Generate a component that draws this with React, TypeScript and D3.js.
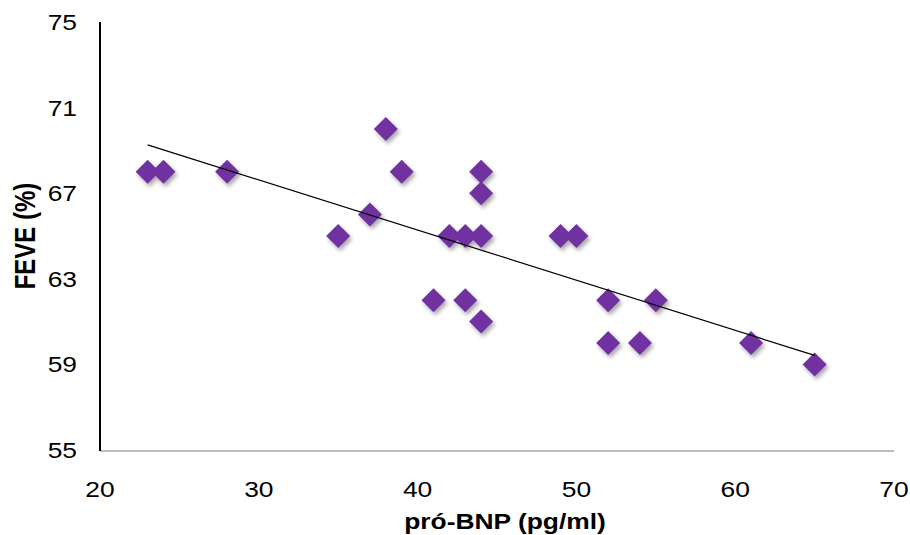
import React from "react";
import * as d3 from "d3";

// pró-BNP (pg/ml) vs FEVE (%)
const bnp = [23, 24, 28, 35, 37, 38, 39, 41, 42, 43, 43, 44, 44, 44, 44, 49, 50, 52, 52, 54, 55, 61, 65];
const feve = [68, 68, 68, 65, 66, 70, 68, 62, 65, 65, 62, 68, 67, 65, 61, 65, 65, 62, 60, 60, 62, 60, 59];
const xTicks = [20, 30, 40, 50, 60, 70];
const yTicks = [55, 59, 63, 67, 71, 75];

const App = () => {
    const width = 910;
    const height = 535;
    const left = 100, right = 894, top = 22, bottom = 450;
    const sx = 1.2; // the original picture is stretched sideways

    const x = d3.scaleLinear().domain([20, 70]).range([left, right]);
    const y = d3.scaleLinear().domain([55, 75]).range([bottom, top]);

    // least squares trend line
    const mx = d3.mean(bnp) as number;
    const my = d3.mean(feve) as number;
    const sxy = d3.sum(bnp, (v, i) => (v - mx) * (feve[i] - my));
    const sxx = d3.sum(bnp, (v) => (v - mx) * (v - mx));
    const slope = sxy / sxx;
    const icpt = my - slope * mx;
    const [x0, x1] = d3.extent(bnp) as [number, number];

    const r = 12;
    const diamond = (cx: number, cy: number) =>
        `M${cx},${cy - r}L${cx + r},${cy}L${cx},${cy + r}L${cx - r},${cy}Z`;

    return (
        <svg width={width} height={height} style={{ position: "absolute", left: 0, top: 0 }}
            fontFamily="'Liberation Sans', Arial, sans-serif">
            <defs>
                <filter id="shadow" x="-50%" y="-50%" width="200%" height="200%">
                    <feDropShadow dx="2" dy="3" stdDeviation="2" floodColor="#000" floodOpacity="0.35" />
                </filter>
            </defs>
            <rect width={width} height={height} fill="#fff" />

            {/* axes */}
            <line x1={left} x2={right} y1={bottom + 1} y2={bottom + 1} stroke="#a6a6a6" strokeWidth={1.5} />
            <line x1={left} x2={left} y1={top} y2={bottom + 1} stroke="#000" strokeWidth={2} />

            {xTicks.map((t) => (
                <text key={t} transform={`translate(${x(t)},${bottom + 47}) scale(${sx},1)`}
                    textAnchor="middle" fontSize={22} fill="#000">{t}</text>
            ))}
            {yTicks.map((t) => (
                <text key={t} transform={`translate(77,${y(t) + 8}) scale(${sx},1)`}
                    textAnchor="end" fontSize={22} fill="#000">{t}</text>
            ))}

            {/* points */}
            <g filter="url(#shadow)">
                {bnp.map((v, i) => (
                    <path key={i} d={diamond(x(v), y(feve[i]))} fill="#7030a0" />
                ))}
            </g>

            {/* trend */}
            <line x1={x(x0)} y1={y(icpt + slope * x0)} x2={x(x1)} y2={y(icpt + slope * x1)}
                stroke="#000" strokeWidth={1.2} />

            <text transform={`translate(505,529) scale(${sx},1)`} textAnchor="middle"
                fontSize={22} fontWeight="bold">pró-BNP (pg/ml)</text>
            <text transform={`translate(35,236) scale(${sx},1) rotate(-90)`} textAnchor="middle"
                fontSize={24} fontWeight="bold">FEVE (%)</text>
        </svg>
    );
};

export default App;
